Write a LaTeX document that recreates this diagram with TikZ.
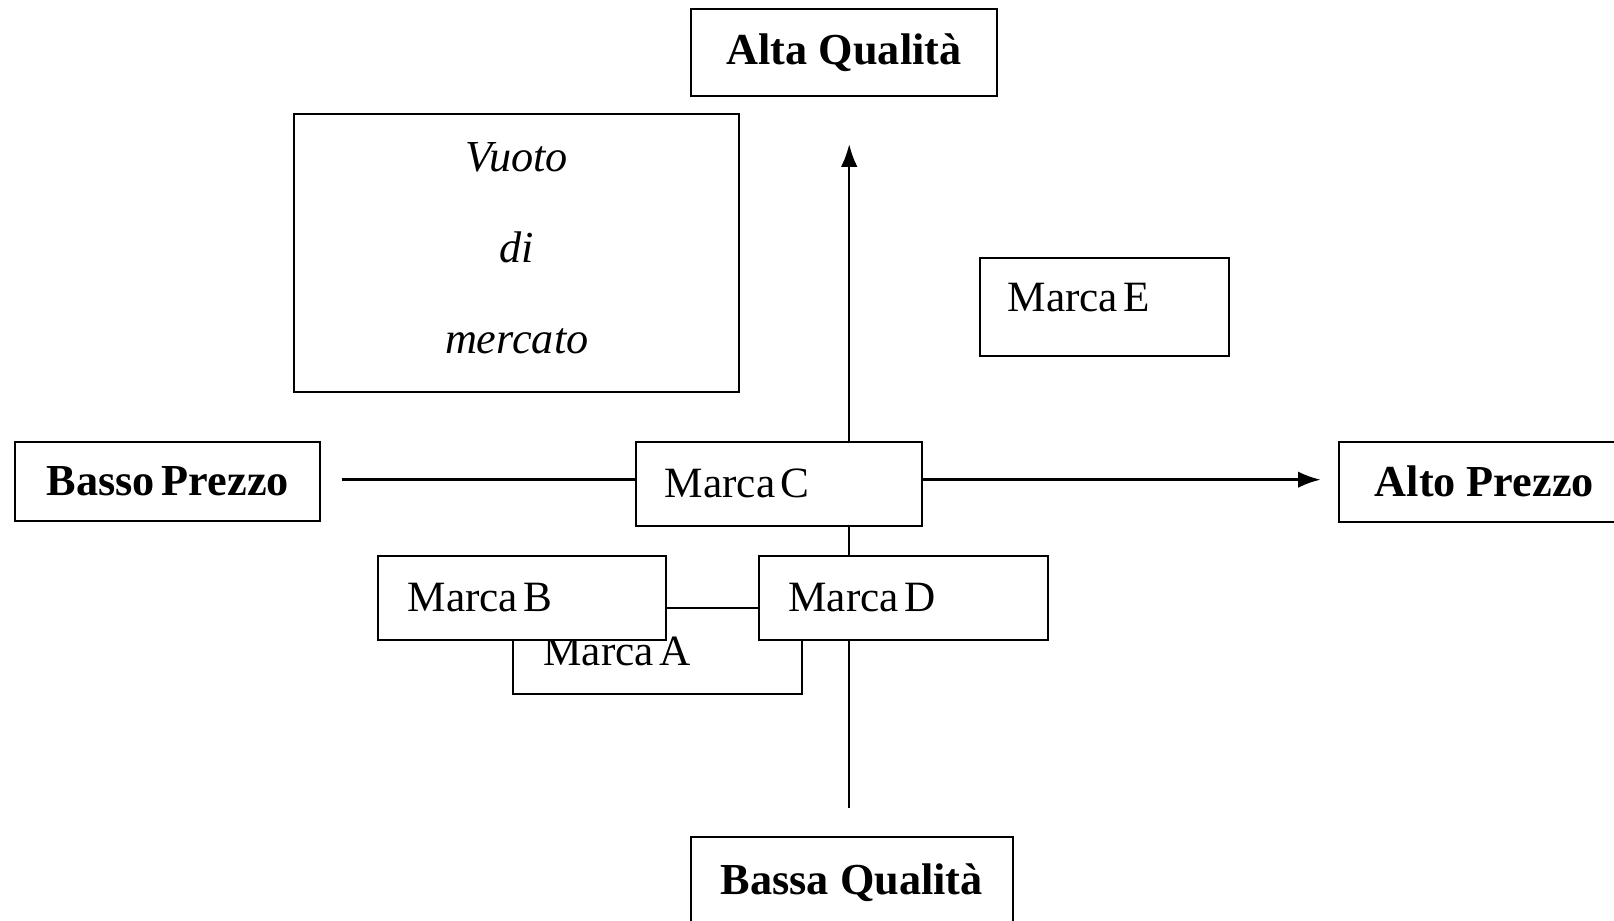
\documentclass[tikz,border=0pt]{standalone}
\usepackage{fontspec}
\setmainfont{Liberation Serif}
\usetikzlibrary{arrows.meta}
\newcommand\tightsp{\spaceskip=0.12em\relax}
\newcommand\bodysp{\spaceskip=0.16em\relax}
\begin{document}
\begin{tikzpicture}[x=0.5pt,y=-0.5pt,
  box/.style={draw=black,line width=1pt,fill=white,rectangle,inner sep=0pt,anchor=north west,font=\fontsize{21}{25}\selectfont},
  bbox/.style={box,font=\fontsize{21.5}{25}\selectfont\bfseries,align=center},
  lbox/.style={box,align=left,execute at begin node=\tightsp},
  axis/.style={line width=1.2pt,-{Latex[length=11pt,width=8pt]}}]
\useasboundingbox (0,0) rectangle (1568,894);
% axes
\coordinate (hl) at (332,466);
\coordinate (hr) at (1283,466);
\coordinate (vb) at (825,785);
\coordinate (vt) at (825,140);
\draw[axis] (hl) -- (hr);
\draw[axis] (vb) -- (vt);
% boxes
\node[lbox,minimum width=140.5pt,minimum height=41.5pt,text width=110.5pt,inner xsep=15pt] (A) at (497,590) {Marca A};
\node[lbox,minimum width=140pt,minimum height=41pt,text width=111pt,inner xsep=14.5pt] (B) at (366,539) {Marca B};
\node[lbox,minimum width=140.5pt,minimum height=41pt,text width=111.5pt,inner xsep=14.5pt] (D) at (736,539) {Marca D};
\node[lbox,minimum width=139pt,minimum height=41pt,text width=111pt,inner xsep=14pt] (C) at (617,428) {Marca C};
\node[lbox,minimum width=121pt,minimum height=47.5pt,text width=94pt,inner xsep=13.5pt,text depth=10pt] (E) at (951,250) {Marca E};
\node[box,align=center,minimum width=216pt,minimum height=135pt,text depth=5pt,font=\fontsize{21.5}{44}\selectfont\itshape] (V) at (285,110) {Vuoto\\di\\mercato};
\node[bbox,minimum width=149pt,minimum height=42pt] (AQ) at (670,8) {Alta Qualità};
\node[bbox,minimum width=148pt,minimum height=38.5pt,execute at begin node=\bodysp] (BP) at (14,428) {Basso Prezzo};
\node[bbox,minimum width=141pt,minimum height=39pt] (AP) at (1300,428) {Alto Prezzo};
\node[bbox,minimum width=156.5pt,minimum height=45pt] (BQ) at (670,812) {Bassa Qualità};
\end{tikzpicture}
\end{document}
